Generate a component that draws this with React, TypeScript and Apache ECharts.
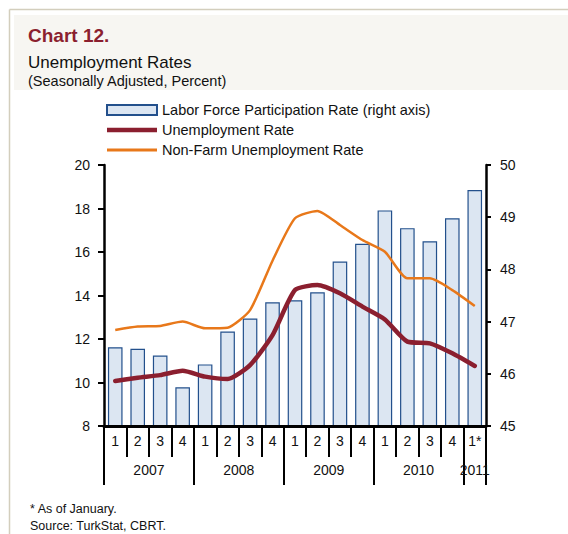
import React, { useEffect, useRef } from "react";
import * as echarts from "echarts";

const quarters = ["1", "2", "3", "4", "1", "2", "3", "4", "1", "2", "3", "4", "1", "2", "3", "4", "1*"];
const yearLabels = ["2007", "2008", "2009", "2010", "2011"];
const quartersPerYear = [4, 4, 4, 4, 1];
const laborForce = [46.51, 46.48, 46.35, 45.74, 46.18, 46.81, 47.06, 47.37, 47.41, 47.56, 48.15, 48.49, 49.13, 48.79, 48.54, 48.98, 49.52];
const unemployment = [10.07, 10.22, 10.34, 10.54, 10.27, 10.16, 10.8, 12.18, 14.25, 14.48, 14.1, 13.49, 12.9, 11.88, 11.8, 11.34, 10.76];
const nonFarm = [12.41, 12.57, 12.6, 12.8, 12.49, 12.52, 13.33, 15.6, 17.55, 17.89, 17.24, 16.55, 16.01, 14.79, 14.79, 14.25, 13.52];
const leftTicks = { min: 8, max: 20, interval: 2 };
const rightTicks = { min: 45, max: 50, interval: 1 };

const FONT = "'Liberation Sans', Arial, sans-serif";

export default function App() {
  const ref = useRef<HTMLDivElement>(null);
  useEffect(() => {
    if (!ref.current) return;
    const chart = echarts.init(ref.current, null, { renderer: "svg" });
    const boundaries: number[] = [0];
    const centers: number[] = [];
    quartersPerYear.forEach((n) => {
      const start = boundaries[boundaries.length - 1];
      centers.push(start + n / 2);
      boundaries.push(start + n);
    });
    const total = boundaries[boundaries.length - 1];
    const labelMap: Record<string, string> = {};
    centers.forEach((c, i) => (labelMap[String(c)] = yearLabels[i]));

    chart.setOption({
      animation: false,
      backgroundColor: "#ffffff",
      textStyle: { fontFamily: FONT },
      graphic: [
        { type: "line", shape: { x1: 9.5, y1: 9.5, x2: 568, y2: 9.5 }, style: { stroke: "#d3cebd", lineWidth: 1.5 } },
        { type: "line", shape: { x1: 9.5, y1: 9.5, x2: 9.5, y2: 534 }, style: { stroke: "#d3cebd", lineWidth: 1.5 } },
        { type: "rect", shape: { x: 14, y: 15, width: 554, height: 75 }, style: { fill: "#f7f6f2" }, z: -1 },
        { type: "text", x: 28, y: 35, style: { text: "Chart 12.", fill: "#8b1f2f", font: `bold 19px ${FONT}`, verticalAlign: "middle" } },
        { type: "text", x: 28, y: 62, style: { text: "Unemployment Rates", fill: "#111", font: `17px ${FONT}`, verticalAlign: "middle" } },
        { type: "text", x: 28, y: 81, style: { text: "(Seasonally Adjusted, Percent)", fill: "#111", font: `14.5px ${FONT}`, verticalAlign: "middle" } },
        { type: "text", x: 30, y: 509, style: { text: "* As of January.", fill: "#111", font: `12.5px ${FONT}`, verticalAlign: "middle" } },
        { type: "text", x: 30, y: 526, style: { text: "Source: TurkStat, CBRT.", fill: "#111", font: `12.5px ${FONT}`, verticalAlign: "middle" } },
      ],
      legend: {
        orient: "vertical",
        left: 101,
        top: 97,
        itemWidth: 50,
        itemHeight: 10,
        itemGap: 4,
        symbolKeepAspect: true,
        textStyle: { fontSize: 14.5, color: "#111", fontFamily: FONT, lineHeight: 16 },
        data: [
          { name: "Labor Force Participation Rate (right axis)", icon: "rect" },
          { name: "Unemployment Rate", icon: "path://M0,0L50,0L50,4.5L0,4.5Z" },
          { name: "Non-Farm Unemployment Rate", icon: "path://M0,0L50,0L50,3L0,3Z" },
        ],
      },
      grid: { left: 104, right: 82, top: 165, bottom: 108, containLabel: false },
      xAxis: [
        {
          type: "category",
          data: quarters,
          position: "bottom",
          boundaryGap: true,
          axisLine: { lineStyle: { color: "#000", width: 3 } },
          axisTick: { show: true, interval: 0, length: 31, lineStyle: { color: "#000", width: 2 } },
          axisLabel: { interval: 0, margin: 8, fontSize: 14, color: "#111", fontFamily: FONT },
          splitLine: { show: false },
          z: 5,
        },
        {
          type: "value",
          min: 0,
          max: total,
          position: "bottom",
          axisLine: { show: false },
          splitLine: { show: false },
          axisTick: { show: true, customValues: boundaries, length: 59, lineStyle: { color: "#000", width: 2 } },
          axisLabel: {
            customValues: centers,
            margin: 37,
            fontSize: 14,
            color: "#111",
            fontFamily: FONT,
            formatter: (v: number) => labelMap[String(v)] || "",
          },
        },
      ],
      yAxis: [
        {
          type: "value",
          position: "left",
          ...leftTicks,
          axisLine: { show: true, lineStyle: { color: "#000", width: 2.5 } },
          axisTick: { show: true, length: 6, lineStyle: { color: "#000", width: 2 } },
          axisLabel: { margin: 14, fontSize: 14, color: "#111", fontFamily: FONT },
          splitLine: { show: false },
        },
        {
          type: "value",
          position: "right",
          ...rightTicks,
          axisLine: { show: true, lineStyle: { color: "#000", width: 2.5 } },
          axisTick: { show: true, length: 5, lineStyle: { color: "#000", width: 2 } },
          axisLabel: { margin: 14, fontSize: 14, color: "#111", fontFamily: FONT },
          splitLine: { show: false },
        },
      ],
      series: [
        {
          name: "Labor Force Participation Rate (right axis)",
          type: "bar",
          xAxisIndex: 0,
          yAxisIndex: 1,
          data: laborForce,
          barWidth: "65%",
          itemStyle: { color: "#dce6f2", borderColor: "#23508c", borderWidth: 1.2 },
          z: 1,
        },
        {
          name: "Unemployment Rate",
          type: "line",
          xAxisIndex: 0,
          yAxisIndex: 0,
          data: unemployment,
          symbol: "none",
          smooth: 0.2,
          lineStyle: { color: "#8b1f2f", width: 4.5, cap: "round", join: "round" },
          itemStyle: { color: "#8b1f2f" },
          z: 3,
        },
        {
          name: "Non-Farm Unemployment Rate",
          type: "line",
          xAxisIndex: 0,
          yAxisIndex: 0,
          data: nonFarm,
          symbol: "none",
          smooth: 0.2,
          lineStyle: { color: "#e8781a", width: 2.5, join: "round" },
          itemStyle: { color: "#e8781a" },
          z: 3,
        },
      ],
    });
    return () => chart.dispose();
  }, []);
  return <div ref={ref} style={{ position: "fixed", left: 0, top: 0, width: 568, height: 534 }} />;
}
